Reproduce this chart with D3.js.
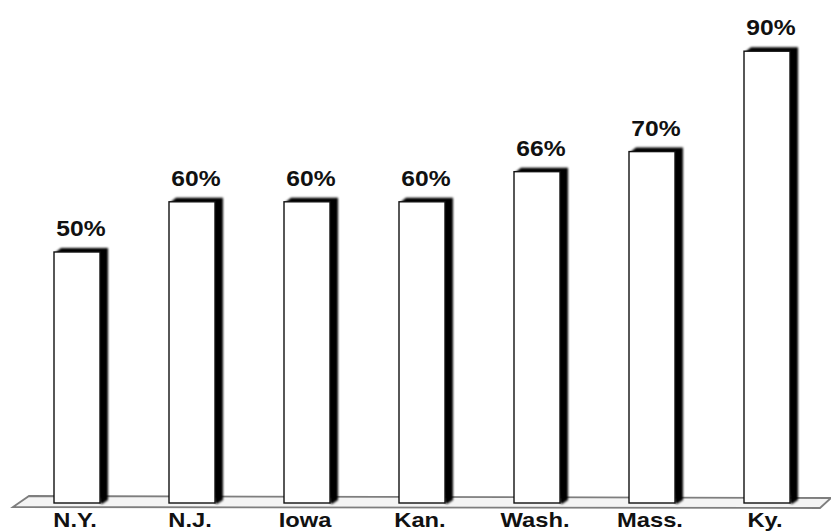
<!DOCTYPE html>
<html>
<head>
<meta charset="utf-8">
<script src="https://cdn.jsdelivr.net/npm/d3@7"></script>
<style>
  html, body { margin: 0; padding: 0; background: #fff; }
  svg { display: block; }
  text { font-family: "Liberation Sans", Arial, sans-serif; font-weight: bold; fill: #111; }
</style>
</head>
<body>
<svg id="chart" width="831" height="531"></svg>
<script>
const categories = ["N.Y.", "N.J.", "Iowa", "Kan.", "Wash.", "Mass.", "Ky."];
const values = [50, 60, 60, 60, 66, 70, 90];
const valueLabels = ["50%", "60%", "60%", "60%", "66%", "70%", "90%"];

const W = 831, H = 531;
const svg = d3.select("#chart");

const x = d3.scaleBand().domain(categories).range([54, 790]).paddingInner(0.6).paddingOuter(0);
const y = d3.scaleLinear().domain([0, 100]).range([503, 1]);

const defs = svg.append("defs");
defs.append("filter").attr("id", "blur").attr("x", "-20%").attr("y", "-20%").attr("width", "140%").attr("height", "140%")
  .append("feGaussianBlur").attr("stdDeviation", 1.1);

// floor
svg.append("polygon")
  .attr("points", [[13, 507], [29, 496], [831, 498], [820, 508]].map(p => p.join(",")).join(" "))
  .attr("fill", "#f4f4f4")
  .attr("stroke", "#7e7e7e")
  .attr("stroke-width", 1.8);

const data = categories.map((c, i) => ({ c, v: values[i], l: valueLabels[i] }));

const g = svg.append("g");
// shadows
g.selectAll("polygon.shadow").data(data).join("polygon")
  .attr("class", "shadow")
  .attr("fill", "#000")
  .attr("filter", "url(#blur)")
  .attr("points", d => {
    const x0 = x(d.c), x1 = x0 + x.bandwidth(), t = y(d.v), b = y(0);
    return [[x0 + 2, t], [x0 + 7, t - 4], [x1 + 8, t - 4], [x1 + 8, b - 3], [x1 + 2, b + 1], [x1, b]].map(p => p.join(",")).join(" ");
  });

// bars
g.selectAll("rect.bar").data(data).join("rect")
  .attr("class", "bar")
  .attr("x", d => x(d.c))
  .attr("y", d => y(d.v))
  .attr("width", x.bandwidth())
  .attr("height", d => y(0) - y(d.v))
  .attr("fill", "#fff")
  .attr("stroke", "#111")
  .attr("stroke-width", 1.4);

// value labels
svg.selectAll("text.val").data(data).join("text")
  .attr("class", "val")
  .attr("text-anchor", "middle")
  .attr("font-size", 22)
  .attr("transform", d => `translate(${x(d.c) + x.bandwidth() / 2 + 4},${y(d.v) - 16}) scale(1.12,1)`)
  .text(d => d.l);

// category labels
svg.selectAll("text.cat").data(data).join("text")
  .attr("class", "cat")
  .attr("text-anchor", "middle")
  .attr("font-size", 21)
  .attr("transform", d => `translate(${x(d.c) + x.bandwidth() / 2 - 2},527) scale(1.13,1)`)
  .text(d => d.c);
</script>
</body>
</html>
